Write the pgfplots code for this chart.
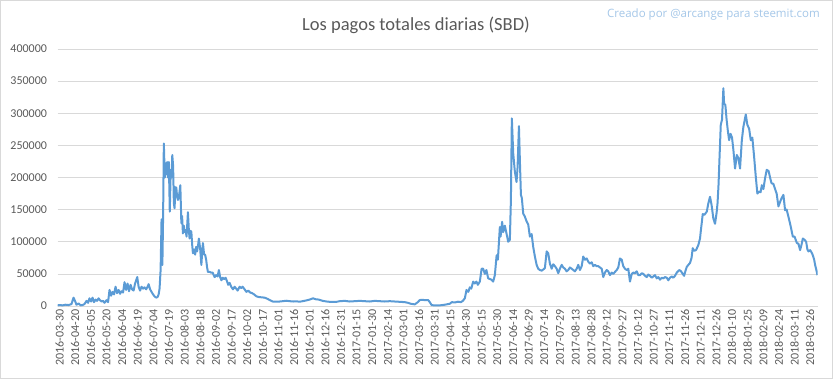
\documentclass[border=0pt]{standalone}
\usepackage{pgfplots}
\pgfplotsset{compat=1.18}
\usepackage{fontspec}
\setmainfont{Carlito}
\newfontfamily\wmfont{Open Sans}
\definecolor{linecol}{RGB}{91,155,213}
\definecolor{gridgray}{RGB}{217,217,217}
\definecolor{textgray}{RGB}{89,89,89}
\definecolor{markblue}{RGB}{165,199,232}
\begin{document}
\begin{tikzpicture}[x=1bp,y=1bp]
\path[draw=gridgray,line width=1bp] (0.5,0.5) rectangle (832.5,378.5);
\node[text=textgray,font=\fontsize{18.5bp}{22bp}\selectfont] at (416,354) {Los pagos totales diarias (SBD)};
\node[text=markblue,font=\wmfont\fontsize{11.5bp}{14bp}\selectfont] at (713.5,364.5) {Creado por @arcange para steemit.com};
\begin{axis}[
  at={(57.5bp,73bp)}, anchor=south west,
  scale only axis, width=760bp, height=257bp,
  xmin=0, xmax=729, ymin=0, ymax=400000,
  ytick={0,50000,...,400000},
  xtick={0,15,...,720},
  xticklabels={2016-03-30,2016-04-20,2016-05-05,2016-05-20,2016-06-04,2016-06-19,2016-07-04,2016-07-19,2016-08-03,2016-08-18,2016-09-02,2016-09-17,2016-10-02,2016-10-17,2016-11-01,2016-11-16,2016-12-01,2016-12-16,2016-12-31,2017-01-15,2017-01-30,2017-02-14,2017-03-01,2017-03-16,2017-03-31,2017-04-15,2017-04-30,2017-05-15,2017-05-30,2017-06-14,2017-06-29,2017-07-14,2017-07-29,2017-08-13,2017-08-28,2017-09-12,2017-09-27,2017-10-12,2017-10-27,2017-11-11,2017-11-26,2017-12-11,2017-12-26,2018-01-10,2018-01-25,2018-02-09,2018-02-24,2018-03-11,2018-03-26},
  axis line style={draw=none},
  x axis line style={draw=gridgray},
  ymajorgrids, grid style={draw=gridgray, line width=0.75bp},
  major tick length=0pt,
  scaled y ticks=false,
  /pgf/number format/fixed,
  /pgf/number format/1000 sep={},
  /pgf/number format/assume math mode=true,
  tick label style={font=\fontsize{12bp}{14bp}\selectfont, text=textgray},
  yticklabel style={xshift=-7bp},
  xticklabel style={rotate=90, anchor=east, xshift=0bp, yshift=-2bp},
]
\addplot[linecol, line width=2bp, line join=round, mark=none] coordinates {
(0,1000)(1.9,1500)(4.8,1000)(7.7,2000)(10.6,1500)(13.4,3000)(15.4,13000)(16.8,8000)(18.2,2000)(20.2,4000)
(22.1,1000)(24,1500)(25.9,3000)(27.8,8000)(29.3,5000)(30.7,12000)(32.2,7000)(33.6,13000)(35,6000)(36.5,10000)
(37.9,8000)(39.4,12000)(40.8,9000)(42.2,7000)(43.7,8000)(45.1,5000)(47,9000)(48.5,6000)(49.9,25000)(51.4,16000)
(52.8,22000)(54.2,18000)(55.7,30000)(57.1,20000)(58.6,25000)(60,19000)(61.4,23000)(62.9,21000)(64.3,37000)(65.8,25000)
(67.2,35000)(68.6,23000)(70.1,33000)(71.5,26000)(73,24000)(74.4,35000)(76.5,45000)(77.8,30000)(79.2,24000)(80.6,30000)
(82.1,27000)(83.5,29000)(85,26000)(86.4,30000)(87.4,34000)(88.8,26000)(90.2,22000)(91.7,18000)(93.1,15000)(94.6,13000)
(96,14000)(97,18000)(97.9,27000)(98.9,56000)(99.8,135000)(100.6,64000)(101.3,140000)(102,253000)(102.9,200000)(103.7,222000)
(104.4,205000)(105.2,224000)(106,200000)(106.8,224000)(107.7,147000)(108.6,212000)(109.4,200000)(110.1,235000)(110.9,218000)(111.6,160000)
(112.3,152000)(113.1,185000)(114,184000)(114.7,170000)(115.5,165000)(116.6,172000)(117.8,188000)(118.8,129000)(119.5,140000)(120.3,113000)
(121.2,125000)(121.9,115000)(122.9,118000)(123.8,108000)(125.1,146000)(126,118000)(126.7,105000)(127.7,117000)(128.4,115000)(129.2,95000)
(129.9,82000)(131,88000)(132,80000)(133,92000)(133.9,85000)(134.9,95000)(135.6,105000)(136.8,90000)(138,64000)(138.8,85000)
(139.5,98000)(140.6,80000)(141.6,80000)(142.6,72000)(143.5,60000)(144.3,53000)(145.9,53000)(147.4,52000)(148.8,52000)(150.7,45000)
(152.2,48000)(153.6,46000)(154.8,56000)(156,45000)(157.2,40000)(158.4,44000)(159.8,42000)(161.3,44000)(162.7,38000)(163.7,33000)
(165.1,36000)(166.6,30000)(168.3,26000)(169.9,30000)(171.4,27000)(172.8,24000)(174.7,30000)(176.2,28000)(177.6,30000)(179,27000)
(181.2,22000)(182.9,24000)(184.8,21000)(186.7,20000)(188.6,18000)(190.8,15000)(193,14000)(195.8,13500)(198.7,13000)(201.6,11000)
(203.5,9300)(206.4,7000)(210,6700)(213.1,7000)(216,7500)(219.6,8200)(222.7,7500)(226.6,7000)(229.4,7200)(232.3,6700)
(235.2,7500)(238.1,8500)(241.9,10000)(245.1,12000)(247.7,10500)(250.6,10000)(254.4,8000)(258.2,7000)(261.1,6500)(265,6500)
(267.6,6500)(270.7,7500)(275.5,8000)(280.3,7000)(285.1,7500)(289.9,8000)(294.7,7500)(299.5,7000)(304.3,8000)(309.1,7500)
(313.9,7000)(318.7,7500)(323.5,7000)(328.3,6500)(333.1,6000)(336,5000)(338.9,3500)(342.7,2500)(345.6,6000)(347.5,9300)
(350.4,9500)(353.3,9000)(355.5,9300)(357.1,6000)(358.8,1500)(362,800)(366.7,1000)(371.5,2000)(376.3,3500)(378.2,6000)
(381.1,5500)(384,6700)(386.9,6000)(388.8,8000)(390.7,12000)(392.3,25000)(394.1,22000)(395.5,29000)(396.9,27000)(398.7,38000)
(400.3,35000)(401.8,38000)(403.2,33000)(405.1,38000)(406.8,58000)(408.3,58000)(409.9,50000)(411.4,56000)(413.1,43000)(414.7,42000)
(416.2,41000)(417.9,38000)(419.5,48000)(421.2,79000)(422.4,72000)(424.3,123000)(425,108000)(426.5,131000)(427.5,115000)(429.1,125000)
(430.8,112000)(432.3,100000)(433.9,103000)(434.9,165000)(435.8,292000)(437.1,238000)(438.7,209000)(440.3,193000)(441.3,216000)(442.6,280000)
(443.5,227000)(444.5,173000)(445.4,168000)(446.7,144000)(448.3,139000)(449.9,132000)(451.5,127000)(453.1,108000)(454.8,112000)(456.3,92000)
(457.9,77000)(459.6,64000)(461.1,58000)(462.7,56000)(464.4,55000)(466.1,57000)(467.5,59000)(469.2,85000)(470.7,82000)(472.3,66000)
(474,58000)(475.5,65000)(477.1,62000)(478.8,58000)(480.3,51000)(481.9,58000)(483.6,64000)(485.1,60000)(486.7,58000)(488.3,54000)
(489.9,56000)(491.5,60000)(493.2,58000)(494.7,56000)(496.3,54000)(498,58000)(499.5,64000)(501.1,56000)(502.8,62000)(504.3,77000)
(505.9,72000)(507.6,74000)(509.1,69000)(510.7,66000)(512.4,68000)(513.9,62000)(515.5,64000)(517.2,62000)(518.7,62000)(520.3,60000)
(522,58000)(523.5,45000)(525.1,52000)(526.8,56000)(528.3,54000)(529.9,48000)(531.6,52000)(533.1,50000)(534.7,53000)(536.4,56000)
(537.9,60000)(539.5,74000)(541.2,72000)(542.7,62000)(544.3,58000)(546,56000)(547.5,58000)(549.1,38000)(550.8,50000)(552.3,52000)
(553.9,51000)(555.6,54000)(557.1,48000)(558.7,48000)(560.4,51000)(561.9,50000)(563.5,47000)(565.2,45000)(566.7,49000)(568.3,47000)
(570,44000)(571.5,46000)(573.1,48000)(574.8,43000)(576.3,45000)(577.9,41000)(579.6,44000)(581.1,43000)(582.7,45000)(584.4,44000)
(585.9,40000)(587.5,44000)(589.2,46000)(590.7,44000)(592.3,47000)(594,52000)(596.4,56000)(598.1,54000)(599.7,50000)(601,47000)
(602.4,55000)(603.6,61000)(605.1,64000)(606.7,67000)(608.2,75000)(609.3,90000)(610.6,86000)(612.5,87000)(614.7,95000)(616.3,105000)
(617,116000)(618,130000)(618.9,143000)(620.6,142000)(622.8,147000)(624.3,160000)(625.9,170000)(627.4,157000)(629.1,136000)(630.7,128000)
(632.2,145000)(633.1,160000)(634.1,190000)(634.8,222000)(636.2,282000)(637.4,290000)(638.7,339000)(639.4,315000)(640.6,313000)(641.8,290000)
(642.9,274000)(644.2,258000)(645.6,268000)(647,262000)(648.3,243000)(649.9,214000)(651.6,235000)(653.1,230000)(654.7,214000)(656.4,258000)
(657.9,279000)(660.2,298000)(661.7,282000)(663.4,276000)(665,258000)(666.5,262000)(668.2,232000)(669.8,201000)(671.3,175000)(672.9,178000)
(674.4,177000)(675.6,188000)(677.1,182000)(678.7,199000)(680.3,212000)(682.1,210000)(683.5,200000)(684.9,191000)(686.7,190000)(688.3,182000)
(689.8,175000)(691.5,155000)(693.1,162000)(694.6,168000)(696.3,173000)(697.9,149000)(699.4,150000)(701.1,139000)(702.7,128000)(703.4,123000)
(705.3,108000)(707,108000)(709.2,98000)(710.7,97000)(712.3,87000)(713.6,95000)(714.9,105000)(716.6,103000)(718.1,100000)(719.3,88000)
(720.3,85000)(721.9,87000)(723.4,83000)(724.5,79000)(725.8,72000)(726.7,64000)(727.9,56000)(728.9,48000)
};
\end{axis}
\end{tikzpicture}
\end{document}
